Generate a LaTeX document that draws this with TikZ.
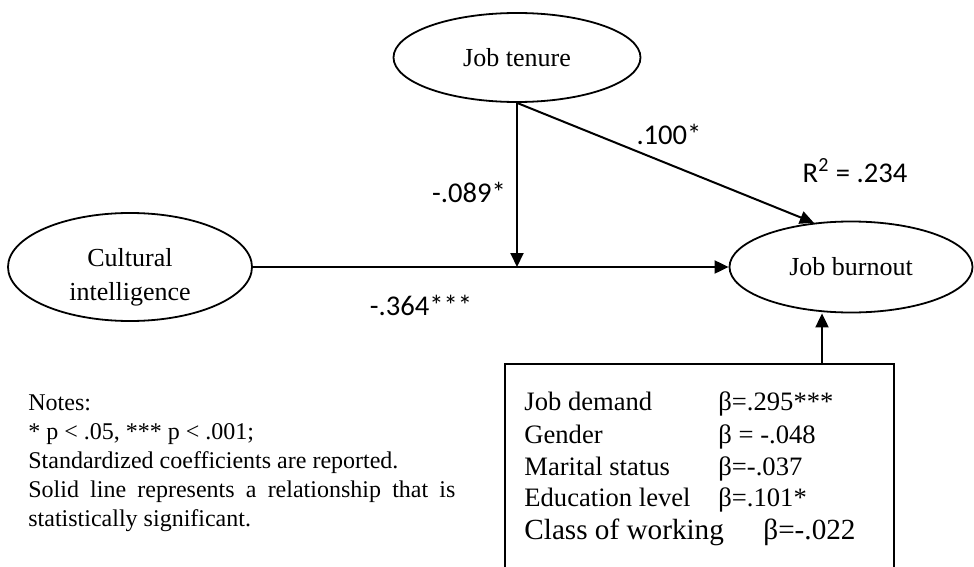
\documentclass[tikz,border=0pt]{standalone}
\usepackage{fontspec}
\setmainfont{Liberation Serif}
\newfontfamily\calib{Carlito}
\usetikzlibrary{shapes.geometric,arrows.meta}
\begin{document}
\begin{tikzpicture}[x=0.5pt,y=-0.5pt,
  ell/.style={draw,ellipse,line width=0.9pt,inner sep=0pt,font=\fontsize{13}{15}\selectfont},
  conn/.style={line width=1pt,-{Triangle[length=7pt,width=6.5pt]}},
  lab/.style={font=\calib\fontsize{14.3}{16}\selectfont,anchor=base,inner sep=0pt},
  boxt/.style={font=\fontsize{13.3}{15}\selectfont,anchor=base west,inner sep=0pt},
  bigt/.style={font=\fontsize{14.6}{17}\selectfont,anchor=base west,inner sep=0pt},
  note/.style={font=\fontsize{12}{14}\selectfont,anchor=base west,inner sep=0pt}]
\useasboundingbox (0,0) rectangle (974,567);
\clip (0,0) rectangle (974,567);

% ellipses
\node[ell,minimum width=123.5pt,minimum height=44.5pt] (jt) at (517,57.5) {Job tenure};
\node[ell,minimum width=122pt,minimum height=54pt] (ci) at (130,267) {};
\node[font=\fontsize{13}{17}\selectfont,align=center,inner sep=0pt] (citext) at (130,277) {Cultural\\intelligence};
\node[ell,minimum width=121.5pt,minimum height=45.5pt] (jb) at (851,267) {Job burnout};

% controls box
\node[draw,line width=1pt,anchor=north west,minimum width=194.5pt,minimum height=120pt,inner sep=0pt] (box) at (504,363) {};

% connectors
\coordinate (mid) at (517,267);
\coordinate (up) at (822,363);
\draw[conn] (ci.east) -- (jb.west);
\draw[conn] (jt.south) -- (mid);
\draw[conn] (jt.south) -- (jb.130);
\draw[conn] (up) -- (up |- jb.south);

% path labels
\node[lab] (l1) at (469,202) {-.089*};
\node[lab] (l2) at (669,145) {.100*};
\node[lab] (l3) at (855,182) {R\textsuperscript{2} = .234};
\node[lab] (l4) at (421,315) {-.364***};

% box contents
\node[boxt] (r1) at (524,410) {Job demand};
\node[boxt] (r1b) at (718,410) {β=.295***};
\node[boxt] (r2) at (524,443) {Gender};
\node[boxt] (r2b) at (718,443) {β = -.048};
\node[boxt] (r3) at (524,475) {Marital status};
\node[boxt] (r3b) at (718,475) {β=-.037};
\node[boxt] (r4) at (524,506) {Education level};
\node[boxt] (r4b) at (718,506) {β=.101*};
\node[bigt] (r5) at (524,539) {Class of working};
\node[bigt] (r5b) at (763,539) {β=-.022};

% notes
\node[note] (n1) at (28,410) {Notes:};
\node[note] (n2) at (28,439) {* p < .05, *** p < .001;};
\node[note] (n3) at (28,468) {Standardized coefficients are reported.};
\node[note] (n4) at (28,497) {\makebox[213.5pt][s]{Solid line represents a relationship that is}};
\node[note] (n5) at (28,526) {statistically significant.};
\end{tikzpicture}
\end{document}
